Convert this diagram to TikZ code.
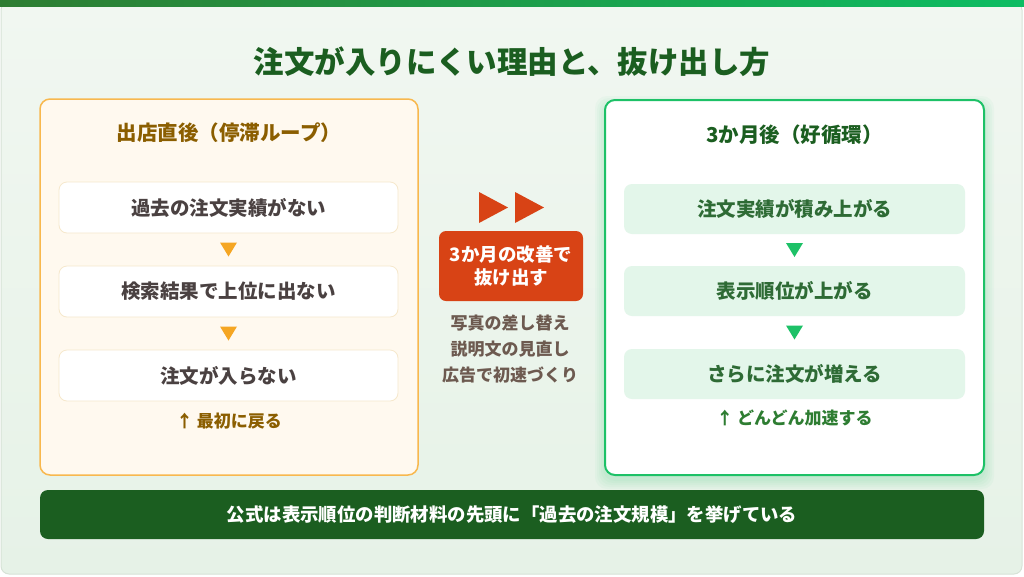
\documentclass[tikz,border=0pt]{standalone}
\usepackage{fontspec}
\setmainfont{Noto Sans CJK JP}
\usetikzlibrary{calc}
\definecolor{bgtop}{HTML}{F1F7F1}
\definecolor{bgbot}{HTML}{E6F2E7}
\definecolor{cardline}{HTML}{D6E2D6}
\definecolor{barL}{HTML}{2E7D32}
\definecolor{barR}{HTML}{0DBD63}
\definecolor{titlecol}{HTML}{1B5E20}
\definecolor{lborder}{HTML}{F8B84E}
\definecolor{lfill}{HTML}{FFF9EF}
\definecolor{lboxline}{HTML}{F6E8CC}
\definecolor{ltri}{HTML}{F5A623}
\definecolor{lhead}{HTML}{8B5E00}
\definecolor{boxtext}{HTML}{4A4141}
\definecolor{rborder}{HTML}{1DC167}
\definecolor{rboxfill}{HTML}{E3F6EA}
\definecolor{rtext}{HTML}{2E6B35}
\definecolor{rnote}{HTML}{2E7D32}
\definecolor{midred}{HTML}{D84315}
\definecolor{notecol}{HTML}{6D5A50}
\definecolor{footcol}{HTML}{1B5E20}
\tikzset{
  fs/.style={font=\fontsize{#1}{#1}\selectfont\bfseries},
  panelL/.style={draw=lborder, line width=1.5pt, fill=lfill, rounded corners=10pt},
  panelR/.style={draw=rborder, line width=2pt, fill=white, rounded corners=10pt},
  lbox/.style={draw=lboxline, line width=0.8pt, fill=white, rounded corners=8pt, minimum width=339pt, minimum height=51pt, text=boxtext, font=\fontsize{19.5}{22}\selectfont\bfseries},
  rbox/.style={fill=rboxfill, rounded corners=8pt, minimum width=341pt, minimum height=50pt, text=rtext, font=\fontsize{19.5}{22}\selectfont\bfseries},
  tri/.style={fill=#1},
}
\begin{document}
\begin{tikzpicture}[x=1pt,y=-1pt]
\useasboundingbox (0,0) rectangle (1024,576);
% background card
\shade[top color=bgtop, bottom color=bgbot, draw=cardline, line width=1pt, rounded corners=8pt] (1,2) rectangle (1022,574);
\shade[left color=barL, right color=barR] (0,0) rectangle (1024,6);
% title
\node[fs=30.5, text=titlecol] (title) at (512,62) {注文が入りにくい理由と、抜け出し方};

% left panel
\node[panelL, minimum width=378pt, minimum height=376pt] (lp) at (229,287) {};
\node[fs=20.5, text=lhead] (lh) at (229,133) {出店直後（停滞ループ）};
\node[lbox] (l1) at (228.5,207.5) {過去の注文実績がない};
\node[lbox] (l2) at (228.5,291.5) {検索結果で上位に出ない};
\node[lbox] (l3) at (228.5,375.5) {注文が入らない};
\node[fs=17, text=lhead] (ln) at (229,421) {↑ 最初に戻る};
\fill[tri=ltri] ($(l1.south)!.5!(l2.north)$) ++(-8.5,-7) -- ++(17,0) -- ++(-8.5,14) -- cycle;
\fill[tri=ltri] ($(l2.south)!.5!(l3.north)$) ++(-8.5,-7) -- ++(17,0) -- ++(-8.5,14) -- cycle;

% right panel shadow
\foreach \i in {1,...,5}
  \fill[rborder, opacity=0.035, rounded corners=12pt] (605-\i*2,102-\i*2+4) rectangle (984+\i*2,475+\i*2+4);
\node[panelR, minimum width=379pt, minimum height=375pt] (rp) at (794.5,287.5) {};
\node[fs=20.5, text=titlecol] (rh) at (794.5,135) {3か月後（好循環）};
\node[rbox] (r1) at (794.5,209) {注文実績が積み上がる};
\node[rbox] (r2) at (794.5,291) {表示順位が上がる};
\node[rbox] (r3) at (794.5,374) {さらに注文が増える};
\node[fs=17, text=rnote] (rn) at (794.5,418) {↑ どんどん加速する};
\fill[tri=rborder] ($(r1.south)!.5!(r2.north)$) ++(-8.5,-7) -- ++(17,0) -- ++(-8.5,14) -- cycle;
\fill[tri=rborder] ($(r2.south)!.5!(r3.north)$) ++(-8.5,-7) -- ++(17,0) -- ++(-8.5,14) -- cycle;

% middle
\coordinate (ff) at (512,207.5);
\fill[midred] ($(ff)+(-33,-15.5)$) -- ++(29,15.5) -- ++(-29,15.5) -- cycle;
\fill[midred] ($(ff)+(3,-15.5)$) -- ++(29,15.5) -- ++(-29,15.5) -- cycle;
\node[fill=midred, rounded corners=7pt, minimum width=144pt, minimum height=70pt, text=white, align=center, font=\fontsize{18.5}{23.5}\selectfont\bfseries] (mid) at (511,266) {3か月の改善で\\抜け出す};
\node[text=notecol, align=center, font=\fontsize{17}{26}\selectfont\bfseries, anchor=north] (notes) at (510,311) {写真の差し替え\\説明文の見直し\\広告で初速づくり};

% footer
\node[fill=footcol, rounded corners=8pt, minimum width=944pt, minimum height=49pt, text=white, fs=18.4] (foot) at (512,514.5) {公式は表示順位の判断材料の先頭に「過去の注文規模」を挙げている};
\end{tikzpicture}
\end{document}
